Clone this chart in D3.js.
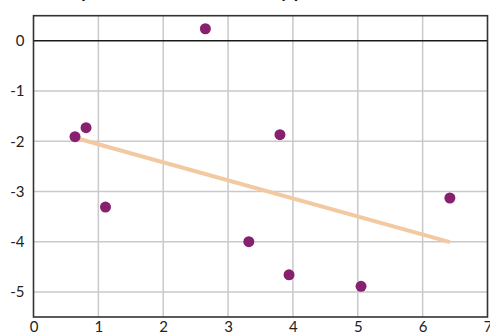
<!DOCTYPE html>
<html>
<head>
<meta charset="utf-8">
<script src="https://cdn.jsdelivr.net/npm/d3@7"></script>
<style>
  html, body { margin: 0; padding: 0; background: #fff; }
  svg { display: block; font-family: "Gill Sans", "Gill Sans MT", "Lato", sans-serif; }
</style>
</head>
<body>
<svg id="chart" width="490" height="336"></svg>
<script>
// Observations
const xValues = [0.64, 0.81, 1.11, 2.65, 3.32, 3.80, 3.94, 5.05, 6.42];
const yValues = [-1.91, -1.73, -3.31, 0.24, -4.00, -1.87, -4.66, -4.89, -3.13];

// Fitted line end points
const fitX = [0.64, 6.42];
const fitY = [-1.93, -4.01];

// Tick labels
const xTicks = [0, 1, 2, 3, 4, 5, 6, 7];
const yTicks = [0, -1, -2, -3, -4, -5];

const titleText = "Composite scores versus study period";

const svg = d3.select("#chart");
const W = 490, H = 336;
const m = { left: 33.5, right: 2.5, top: 15.7, bottom: 19 };

const x = d3.scaleLinear().domain([0, 7]).range([m.left, W - m.right]);
const y = d3.scaleLinear().domain([-5.5, 0.5]).range([H - m.bottom, m.top]);

// Title (sits mostly above the top edge of the page)
svg.append("text")
  .attr("x", 44).attr("y", -2.5)
  .attr("text-anchor", "start")
  .attr("font-weight", "bold")
  .attr("font-size", 18)
  .attr("fill", "#111")
  .text(titleText);

// Grid
const grid = svg.append("g");
grid.selectAll(".gx").data(xTicks.slice(1, -1)).join("line")
  .attr("x1", d => x(d)).attr("x2", d => x(d))
  .attr("y1", y(0.5)).attr("y2", y(-5.5))
  .attr("stroke", "#c9c9cc").attr("stroke-width", 1.5);
grid.selectAll(".gy").data(yTicks.filter(d => d !== 0)).join("line")
  .attr("x1", x(0)).attr("x2", x(7))
  .attr("y1", d => y(d)).attr("y2", d => y(d))
  .attr("stroke", "#c9c9cc").attr("stroke-width", 1.5);

// Zero line
svg.append("line")
  .attr("x1", x(0)).attr("x2", x(7))
  .attr("y1", y(0)).attr("y2", y(0))
  .attr("stroke", "#1a1a1a").attr("stroke-width", 1.5);

// Frame
svg.append("rect")
  .attr("x", x(0)).attr("y", y(0.5))
  .attr("width", x(7) - x(0)).attr("height", y(-5.5) - y(0.5))
  .attr("fill", "none").attr("stroke", "#333").attr("stroke-width", 1.6);

// Axis labels via d3 axes, lines hidden
const xAxis = svg.append("g")
  .attr("transform", `translate(0,${y(-5.5)})`)
  .call(d3.axisBottom(x).tickValues(xTicks).tickSize(0).tickPadding(4).tickFormat(d3.format("d")));
const yAxis = svg.append("g")
  .attr("transform", `translate(${x(0)},0)`)
  .call(d3.axisLeft(y).tickValues(yTicks).tickSize(0).tickPadding(9).tickFormat(d => d === 0 ? "0" : "-" + Math.abs(d)));
[xAxis, yAxis].forEach(a => {
  a.select(".domain").remove();
  a.selectAll("text").attr("font-size", 15).attr("fill", "#222")
    .attr("font-family", "\"Gill Sans\", \"Gill Sans MT\", Lato, sans-serif");
});

// Fitted line
svg.append("line")
  .attr("x1", x(fitX[0])).attr("y1", y(fitY[0]))
  .attr("x2", x(fitX[1])).attr("y2", y(fitY[1]))
  .attr("stroke", "#f2c9a1").attr("stroke-width", 4);

// Points
svg.append("g").selectAll("circle")
  .data(xValues.map((v, i) => [v, yValues[i]]))
  .join("circle")
  .attr("cx", d => x(d[0])).attr("cy", d => y(d[1]))
  .attr("r", 5.5)
  .attr("fill", "#86206f");
</script>
</body>
</html>
